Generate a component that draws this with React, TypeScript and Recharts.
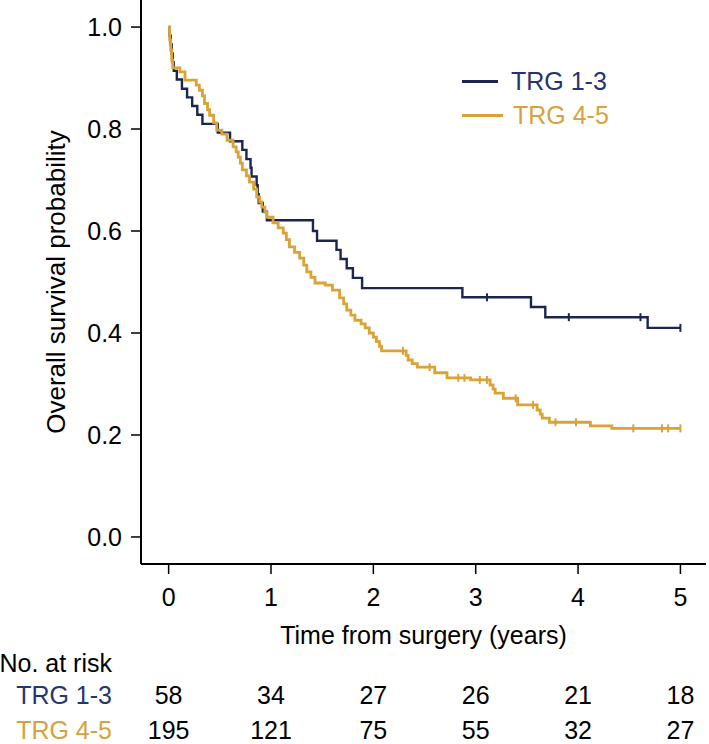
import React from 'react';
import { LineChart, Line, XAxis, YAxis, Legend } from 'recharts';

const FONT = '"Liberation Sans", Arial, Helvetica, sans-serif';
const NAVY = '#1c2550';
const NAVY_TEXT = '#25366f';
const GOLD = '#dba235';
const GOLD_TEXT = '#d6a23a';

const X_MIN = -0.27;
const X_MAX = 5.25;
const Y_MIN = -0.053;
const Y_MAX = 1.053;

const xTicks = [0, 1, 2, 3, 4, 5];
const yTicks = [0, 0.2, 0.4, 0.6, 0.8, 1.0];

// TRG 1-3 Kaplan-Meier steps (time of event, survival after event)
const trg13Times = [0, 0.01, 0.02, 0.03, 0.04, 0.05, 0.08, 0.13, 0.18, 0.23, 0.28, 0.33, 0.48, 0.6, 0.72, 0.76, 0.8, 0.81, 0.86, 0.87, 0.88, 0.92, 0.96, 1.41, 1.45, 1.64, 1.68, 1.74, 1.8, 1.89, 2.87, 3.54, 3.68, 4.68];
const trg13Surv = [1, 0.983, 0.966, 0.948, 0.931, 0.914, 0.897, 0.879, 0.862, 0.845, 0.828, 0.81, 0.793, 0.776, 0.759, 0.741, 0.724, 0.707, 0.69, 0.672, 0.655, 0.638, 0.621, 0.6, 0.581, 0.563, 0.545, 0.527, 0.508, 0.488, 0.47, 0.451, 0.431, 0.41];
const trg13Censor = [3.11, 3.91, 4.61, 5.0];

// TRG 4-5 Kaplan-Meier steps
const trg45Times = [0, 0.01, 0.02, 0.03, 0.04, 0.11, 0.16, 0.27, 0.3, 0.33, 0.35, 0.38, 0.4, 0.44, 0.47, 0.52, 0.57, 0.63, 0.66, 0.68, 0.7, 0.72, 0.76, 0.79, 0.83, 0.86, 0.89, 0.91, 0.94, 0.96, 1.02, 1.07, 1.12, 1.15, 1.18, 1.23, 1.28, 1.32, 1.35, 1.39, 1.43, 1.53, 1.6, 1.67, 1.71, 1.74, 1.78, 1.82, 1.88, 1.92, 1.96, 2.0, 2.03, 2.06, 2.08, 2.32, 2.34, 2.38, 2.43, 2.6, 2.72, 2.95, 3.14, 3.17, 3.19, 3.27, 3.41, 3.6, 3.63, 3.65, 3.72, 4.12, 4.33];
const trg45Surv = [1, 0.975, 0.955, 0.935, 0.92, 0.912, 0.896, 0.886, 0.876, 0.865, 0.85, 0.838, 0.827, 0.812, 0.798, 0.79, 0.778, 0.765, 0.755, 0.745, 0.733, 0.72, 0.708, 0.696, 0.682, 0.667, 0.657, 0.647, 0.637, 0.627, 0.616, 0.606, 0.596, 0.583, 0.569, 0.558, 0.547, 0.533, 0.52, 0.509, 0.498, 0.494, 0.484, 0.469, 0.457, 0.445, 0.435, 0.425, 0.418, 0.41, 0.4, 0.392, 0.383, 0.374, 0.365, 0.356, 0.347, 0.34, 0.333, 0.322, 0.312, 0.308, 0.298, 0.29, 0.282, 0.272, 0.259, 0.249, 0.241, 0.233, 0.225, 0.218, 0.213];
const trg45Censor = [2.29, 2.55, 2.83, 2.89, 3.04, 3.11, 3.39, 3.56, 3.78, 3.98, 4.54, 4.82, 4.88, 5.0];

const riskTRG13 = [58, 34, 27, 26, 21, 18];
const riskTRG45 = [195, 121, 75, 55, 32, 27];

type Pt = { t: number; s: number; c: boolean };

function buildCurve(times: number[], surv: number[], censor: number[]): Pt[] {
  const pts: Pt[] = times.map((t, i) => ({ t, s: surv[i], c: false }));
  censor.forEach((ct) => {
    let s = surv[0];
    times.forEach((t, i) => {
      if (t <= ct) s = surv[i];
    });
    pts.push({ t: ct, s, c: true });
  });
  pts.sort((a, b) => a.t - b.t || (a.c ? 1 : 0) - (b.c ? 1 : 0));
  return pts;
}

const curve13 = buildCurve(trg13Times, trg13Surv, trg13Censor);
const curve45 = buildCurve(trg45Times, trg45Surv, trg45Censor);

const censorDot = (color: string) => (props: any) => {
  const { cx, cy, payload, index } = props;
  if (!payload || !payload.c || cx == null || cy == null) return <g key={`n${index}`} />;
  return (
    <line key={`c${index}`} x1={cx} x2={cx} y1={cy - 4} y2={cy + 4} stroke={color} strokeWidth={2} />
  );
};

// x tick: year label plus the numbers at risk of both groups underneath
const XTick = (props: any) => {
  const { x, y, payload } = props;
  const i = xTicks.indexOf(payload.value);
  const common = { textAnchor: 'middle' as const, fontSize: 25, fontFamily: FONT };
  return (
    <g>
      <text x={x} y={y} dy="0.71em" fill="#000" {...common}>{payload.value}</text>
      <text x={x} y={y + 107} dy="0.35em" fill="#000" {...common}>{riskTRG13[i]}</text>
      <text x={x} y={y + 142} dy="0.35em" fill="#000" {...common}>{riskTRG45[i]}</text>
    </g>
  );
};

const XTitle = (props: any) => {
  const vb = props.viewBox || props;
  const rowStyle = { textAnchor: 'end' as const, fontSize: 25, fontFamily: FONT, dy: '0.35em' };
  return (
    <g>
      <text x={vb.x + vb.width / 2} y={vb.y + 80} textAnchor="middle" fill="#000" fontSize={25} fontFamily={FONT}>
        Time from surgery (years)
      </text>
      <text x={112} y={vb.y + 99} fill="#000" {...rowStyle}>No. at risk</text>
      <text x={112} y={vb.y + 131} fill={NAVY_TEXT} {...rowStyle}>TRG 1-3</text>
      <text x={112} y={vb.y + 166} fill={GOLD_TEXT} {...rowStyle}>TRG 4-5</text>
    </g>
  );
};

const YTitle = (props: any) => {
  const vb = props.viewBox || props;
  const cx = 56;
  const cy = vb.y + vb.height / 2;
  return (
    <text x={cx} y={cy} dy="0.35em" textAnchor="middle" fill="#000" fontSize={26} fontFamily={FONT} transform={`rotate(-90, ${cx}, ${cy})`}>
      Overall survival probability
    </text>
  );
};

const legendText: Record<string, string> = { 'TRG 1-3': NAVY_TEXT, 'TRG 4-5': GOLD_TEXT };

const renderLegend = (props: any) => {
  const { payload } = props;
  return (
    <div style={{ fontFamily: FONT, fontSize: 25 }}>
      {(payload || []).map((e: any, i: number) => (
        <div key={e.value} style={{ display: 'flex', alignItems: 'center', height: 34 }}>
          <div style={{ width: i === 0 ? 36 : 41, height: 3, background: e.color, marginRight: i === 0 ? 13 : 10 }} />
          <span style={{ color: legendText[e.value] || e.color, lineHeight: '34px' }}>{e.value}</span>
        </div>
      ))}
    </div>
  );
};

export default function App() {
  return (
    <div style={{ position: 'absolute', left: 0, top: 0, width: 709, height: 744, background: '#fff' }}>
      <LineChart width={709} height={744} margin={{ top: 0, right: 3, bottom: 0, left: 0 }}>
        <XAxis
          dataKey="t"
          type="number"
          domain={[X_MIN, X_MAX]}
          allowDataOverflow
          ticks={xTicks}
          interval={0}
          height={180}
          tickSize={10}
          tickMargin={14}
          axisLine={{ stroke: '#000', strokeWidth: 2 }}
          tickLine={{ stroke: '#000', strokeWidth: 1.5 }}
          tick={<XTick />}
          label={<XTitle />}
        />
        <YAxis
          type="number"
          domain={[Y_MIN, Y_MAX]}
          allowDataOverflow
          ticks={yTicks}
          interval={0}
          width={141}
          tickSize={10}
          tickMargin={9}
          axisLine={{ stroke: '#000', strokeWidth: 2 }}
          tickLine={{ stroke: '#000', strokeWidth: 1.5 }}
          tick={{ fill: '#000', fontSize: 25, fontFamily: FONT }}
          tickFormatter={(v: number) => v.toFixed(1)}
          label={<YTitle />}
        />
        <Legend
          layout="vertical"
          align="center"
          verticalAlign="middle"
          content={renderLegend}
          wrapperStyle={{ left: 462, top: 64, width: 200, height: 68 }}
        />
        <Line
          data={curve13}
          dataKey="s"
          name="TRG 1-3"
          type="stepAfter"
          stroke={NAVY}
          strokeWidth={2.4}
          dot={censorDot(NAVY)}
          activeDot={false}
          isAnimationActive={false}
        />
        <Line
          data={curve45}
          dataKey="s"
          name="TRG 4-5"
          type="stepAfter"
          stroke={GOLD}
          strokeWidth={2.8}
          dot={censorDot(GOLD)}
          activeDot={false}
          isAnimationActive={false}
        />
      </LineChart>
    </div>
  );
}
